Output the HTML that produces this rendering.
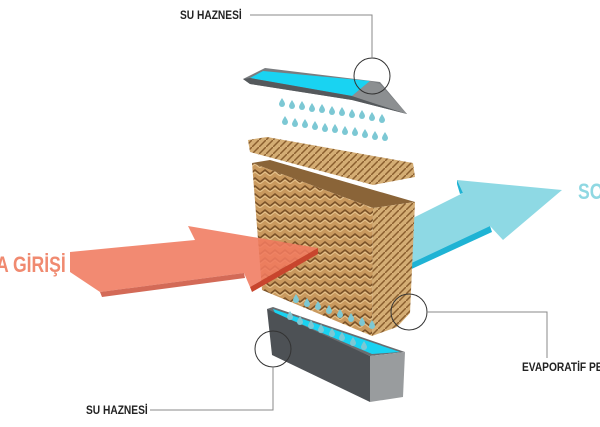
<!DOCTYPE html>
<html><head><meta charset="utf-8"><style>
html,body{margin:0;padding:0;background:#fff;width:600px;height:427px;overflow:hidden}
svg{display:block}
text{font-family:"Liberation Sans",sans-serif;font-weight:bold}
</style></head><body>
<svg width="600" height="427" viewBox="0 0 600 427" xmlns="http://www.w3.org/2000/svg">
<defs>
<pattern id="zz" width="10" height="8" patternUnits="userSpaceOnUse">
<rect width="10" height="8" fill="#c9995e"/>
<path d="M0 6 L5 2 L10 6" stroke="#7a5228" stroke-width="1.6" fill="none"/>
<path d="M0 8 L5 4 L10 8" stroke="#e6c48e" stroke-width="1" fill="none"/>
</pattern>
<pattern id="diag" width="7" height="7" patternUnits="userSpaceOnUse">
<rect width="7" height="7" fill="#d4ad74"/>
<path d="M0 7 L7 0" stroke="#8a5e2e" stroke-width="1.5"/>
</pattern>
<g id="drop"><path d="M0,-4 C2,-1 3,1 3,2 A3,3 0 0 1 -3,2 C-3,1 -2,-1 0,-4Z" fill="#7cc8d4"/></g>
</defs>

<!-- blue arrow -->
<polygon points="405,222 463,193 457,180 562,190 503,240 490,226 405,266" fill="#8ed9e4"/>
<polygon points="405,266 490,226 492,232 405,272" fill="#1fb3d4"/>
<polygon points="457,180 463,193 460,194 457,184" fill="#1fb3d4"/>

<!-- top tank -->
<polygon points="243,79 265,68 380,82 407,114 352,100 250,84" fill="#7a7d80"/>
<polygon points="250,78 263,71 370,81 352,96" fill="#19d3f2"/>
<polygon points="243,79 250,84 352,100 407,114 352,96 250,78" fill="#55595c"/>
<polygon points="370,81 380,84 407,114 352,96" fill="#8c8f91"/>

<!-- top drops -->
<g>
<use href="#drop" x="282" y="102"/><use href="#drop" x="292" y="104"/><use href="#drop" x="302" y="105"/><use href="#drop" x="312" y="107"/><use href="#drop" x="322" y="108"/><use href="#drop" x="332" y="110"/><use href="#drop" x="342" y="111"/><use href="#drop" x="352" y="113"/><use href="#drop" x="362" y="114"/><use href="#drop" x="372" y="116"/><use href="#drop" x="382" y="118"/>
<use href="#drop" x="285" y="120"/><use href="#drop" x="295" y="122"/><use href="#drop" x="305" y="123"/><use href="#drop" x="315" y="125"/><use href="#drop" x="325" y="127"/><use href="#drop" x="335" y="128"/><use href="#drop" x="345" y="130"/><use href="#drop" x="355" y="131"/><use href="#drop" x="365" y="133"/><use href="#drop" x="375" y="135"/><use href="#drop" x="385" y="136"/>
</g>

<!-- top pad -->
<polygon points="248,140 267,137 413,163 415,177 373,185 250,152" fill="url(#diag)"/>

<!-- main pad -->
<polygon points="252,163 270,160 415,202 373,208" fill="#8a6438"/>
<polygon points="252,163 373,208 372,336 262,290" fill="url(#zz)"/>
<polygon points="373,208 415,202 410,313 397,327 372,336" fill="url(#diag)"/>

<!-- red arrow -->
<polygon points="70,252 195,240 188,226 318,248 250,287 244,273 100,292 70,272" fill="#f07a5e" opacity="0.88"/>
<polygon points="250,287 318,248 318,254 252,292" fill="#c8452d"/>
<polygon points="100,292 244,273 245,278 102,297" fill="#c8452d" opacity="0.8"/>

<!-- bottom drops -->
<g>
<use href="#drop" x="296" y="298"/><use href="#drop" x="307" y="302"/><use href="#drop" x="318" y="305"/><use href="#drop" x="329" y="309"/><use href="#drop" x="340" y="313"/><use href="#drop" x="351" y="317"/><use href="#drop" x="362" y="321"/><use href="#drop" x="372" y="324"/>
</g>

<!-- bottom tank -->
<polygon points="267,309 273,307 405,352 370,356 272,313" fill="#6a6d70"/>
<polygon points="273,309 400,352 372,354 275,313" fill="#19d3f2"/>
<polygon points="267,309 370,356 370,402 272,355" fill="#4d5155"/>
<polygon points="370,356 405,352 403,397 370,402" fill="#999c9e"/>
<g>
<use href="#drop" x="290" y="315"/><use href="#drop" x="300" y="320"/><use href="#drop" x="311" y="324"/><use href="#drop" x="321" y="328"/><use href="#drop" x="332" y="332"/><use href="#drop" x="342" y="336"/><use href="#drop" x="353" y="341"/><use href="#drop" x="364" y="345"/>
</g>

<!-- callouts -->
<g fill="none" stroke="#333" stroke-width="1">
<circle cx="372" cy="76" r="18"/>
<polyline points="250,15 372,15 372,58" stroke="#888"/>
<circle cx="409" cy="312" r="18"/>
<polyline points="427,312 547,312 547,358" stroke="#888"/>
<circle cx="273" cy="349" r="18"/>
<polyline points="150,410 273,410 273,367" stroke="#888"/>
</g>

<text x="180" y="19" font-size="12" fill="#222" transform="scale(0.85,1)" transform-origin="180 19">SU HAZNESİ</text>
<text x="86" y="414" font-size="12" fill="#222" transform="scale(0.85,1)" transform-origin="86 414">SU HAZNESİ</text>
<text x="522" y="371" font-size="12" fill="#222" transform="scale(0.85,1)" transform-origin="522 371">EVAPORATİF PED</text>
<text x="-4" y="272" font-size="22" fill="#f08a70" transform="scale(0.8,1)" transform-origin="-4 272">A GİRİŞİ</text>
<text x="578" y="199" font-size="22" fill="#8fd8e2" transform="scale(0.8,1)" transform-origin="578 199">SO</text>
</svg>
</body></html>
